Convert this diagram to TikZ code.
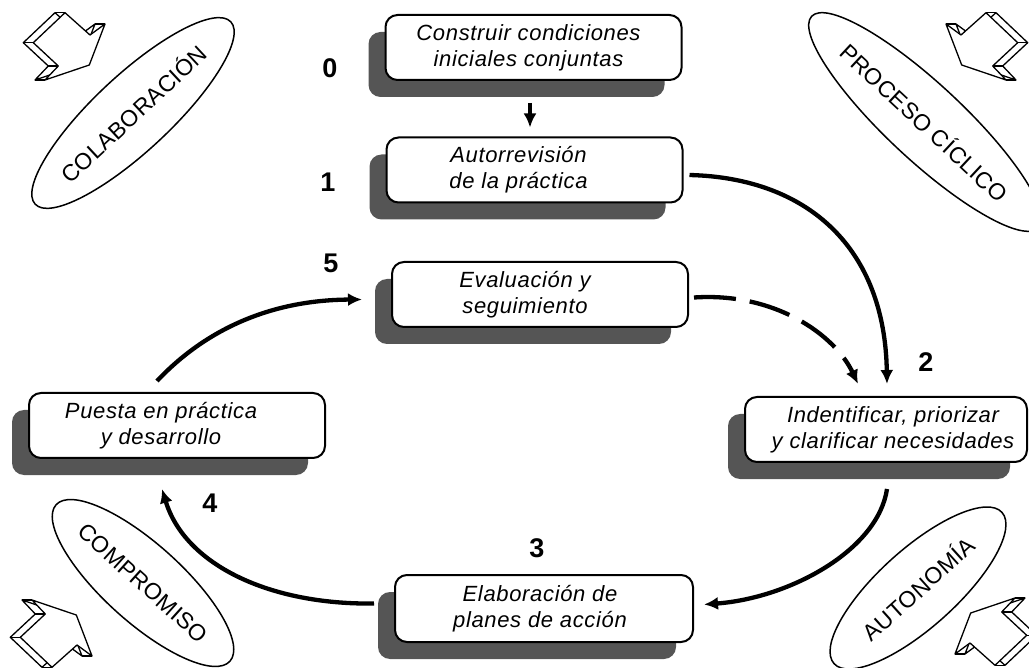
\documentclass[tikz,border=0pt]{standalone}
\usepackage{fontspec}
\setmainfont{Liberation Sans}
\newfontfamily\boxfont[LetterSpace=3]{Liberation Sans}
\newfontfamily\ellfont[LetterSpace=1.5]{Liberation Sans}
\usetikzlibrary{shapes.geometric,shadows,calc,arrows.meta}
\definecolor{shadowgray}{RGB}{85,85,85}
\tikzset{
  stepbox/.style={draw, line width=2pt, rounded corners=12pt, fill=white,
    minimum width=296pt, minimum height=65pt, inner sep=0pt,
    general shadow={shadow xshift=-17pt, shadow yshift=-17pt, fill=shadowgray}},
  boxtext/.style={align=center, font=\fontsize{22}{26}\boxfont\itshape, inner sep=0pt},
  num/.style={font=\fontsize{27}{30}\selectfont\bfseries, inner sep=0pt},
  oval/.style={draw, ellipse, line width=1.5pt, inner sep=0pt, font=\fontsize{23}{26}\ellfont},
  conn/.style={line width=4.3pt, -{Latex[length=14pt,width=13pt]}},
  blockarrow/.pic={
    \draw[line width=1.3pt, fill=white, line join=round]
      (55,12.7) -- (80,35) -- (95,24) -- (79.3,65) -- (35,80) -- (48.3,66) -- (23.3,42.7) -- cycle;
    \foreach \px/\py in {65/12.7, 90/35, 105/24, 89.3/65, 45/80, 58.3/66, 33.3/42.7}
      \draw[line width=1.3pt] (\px,\py) -- ++(-10,0);
    \draw[line width=1.3pt, fill=white, line join=round]
      (65,12.7) -- (90,35) -- (105,24) -- (89.3,65) -- (45,80) -- (58.3,66) -- (33.3,42.7) -- cycle;
  }
}
\begin{document}
\begin{tikzpicture}[x=1pt,y=-1pt]
\useasboundingbox (0,0) rectangle (1029,668);

% corner block arrows
\pic at (0,0) {blockarrow};
\pic[xscale=-1] at (1051,0) {blockarrow};
\pic[yscale=-1] at (-13,680) {blockarrow};
\pic[xscale=-1,yscale=-1] at (1060,678) {blockarrow};

% ellipses
\node[oval, minimum width=222pt, minimum height=76pt, rotate=43] (colab) at (133,113) {COLABORACIÓN};
\node[oval, minimum width=234pt, minimum height=76pt, rotate=-43] (ciclico) at (925,122) {PROCESO CÍCLICO};
\node[oval, minimum width=228pt, minimum height=78pt, rotate=-42] (compro) at (143,583) {COMPROMISO};
\node[oval, minimum width=226pt, minimum height=78pt, rotate=42] (auto) at (918,588) {AUTONOMÍA};

% boxes
\node[stepbox] (b0) at (533.5,47.5) {};
\node[stepbox] (b1) at (534.5,170) {};
\node[stepbox] (b5) at (540,294.5) {};
\node[stepbox] (b4) at (177,425.5) {};
\node[stepbox, minimum width=282pt] (b2) at (886,429.5) {};
\node[stepbox, minimum width=298pt, minimum height=67pt] (b3) at (544,608.5) {};

\node[boxtext] (t0) at ($(b0.center)+(-5,0)$) {Construir condiciones\\iniciales conjuntas};
\node[boxtext] (t1) at ($(b1.center)+(-16,0)$) {Autorrevisión\\de la práctica};
\node[boxtext] (t5) at ($(b5.center)+(-15,0)$) {Evaluación y\\seguimiento};
\node[boxtext] (t4) at ($(b4.center)+(-16,0)$) {Puesta en práctica\\y desarrollo};
\node[boxtext] (t2) at ($(b2.center)+(7,0)$) {Indentificar, priorizar\\y clarificar necesidades};
\node[boxtext] (t3) at ($(b3.center)+(-4,0)$) {Elaboración de\\planes de acción};

% numbers
\node[num] (n0) at (330,68) {0};
\node[num] (n1) at (328,182) {1};
\node[num] (n5) at (331,263) {5};
\node[num] (n2) at (926,362) {2};
\node[num] (n3) at (537,548) {3};
\node[num] (n4) at (210,503) {4};

% connectors
\draw[conn] ($(b0.south)+(-3.5,22)$) -- ($(b1.north)+(-4.5,-9)$);
\draw[conn] ($(b1.east)+(6,5)$) .. controls (810,178) and (885,250) .. ($(b2.north)+(1,-12)$);
\draw[conn, dash pattern=on 42pt off 14pt] ($(b5.east)+(5,3)$) .. controls (775,292) and (835,335) .. ($(b2.north)+(-28,-12)$);
\draw[conn] ($(b2.south)+(1,26)$) .. controls (878,550) and (790,598) .. ($(b3.east)+(10,-4)$);
\draw[conn] ($(b3.west)+(-20,-5)$) .. controls (270,605) and (185,565) .. ($(b4.south)+(-15,30)$);
\draw[conn] ($(b4.north)+(-20,-11)$) .. controls (205,330) and (270,300) .. ($(b5.west)+(-29,5)$);
\end{tikzpicture}
\end{document}
